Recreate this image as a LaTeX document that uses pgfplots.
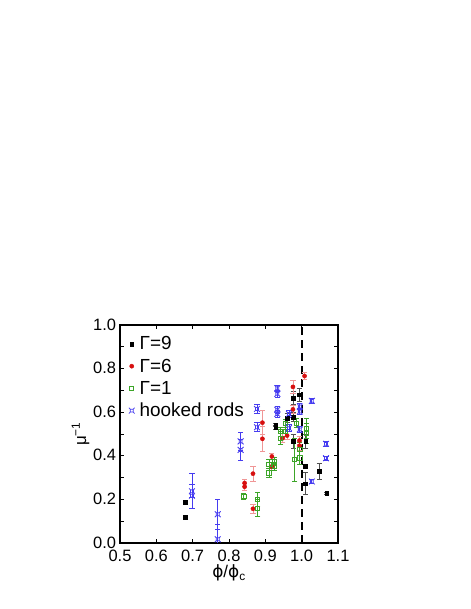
\documentclass[border=0pt]{standalone}
\usepackage{fontspec}
\setmainfont{Liberation Sans}
\newfontfamily\dvsans{DejaVu Sans}
\usepackage{pgfplots}
\pgfplotsset{compat=1.18}

\definecolor{gnine}{RGB}{0,0,0}
\definecolor{gninebar}{RGB}{80,80,80}
\definecolor{gsix}{RGB}{215,15,15}
\definecolor{gsixbar}{RGB}{240,150,150}
\definecolor{gone}{RGB}{60,165,40}
\definecolor{rods}{RGB}{70,60,240}

% square with corner stubs for the hooked rods
\pgfdeclareplotmark{hook}{%
  \pgfpathrectangle{\pgfpoint{-0.5\pgfplotmarksize}{-0.5\pgfplotmarksize}}%
    {\pgfpoint{\pgfplotmarksize}{\pgfplotmarksize}}%
  \pgfpathmoveto{\pgfpoint{-\pgfplotmarksize}{-\pgfplotmarksize}}%
  \pgfpathlineto{\pgfpoint{-0.5\pgfplotmarksize}{-0.5\pgfplotmarksize}}%
  \pgfpathmoveto{\pgfpoint{\pgfplotmarksize}{-\pgfplotmarksize}}%
  \pgfpathlineto{\pgfpoint{0.5\pgfplotmarksize}{-0.5\pgfplotmarksize}}%
  \pgfpathmoveto{\pgfpoint{-\pgfplotmarksize}{\pgfplotmarksize}}%
  \pgfpathlineto{\pgfpoint{-0.5\pgfplotmarksize}{0.5\pgfplotmarksize}}%
  \pgfpathmoveto{\pgfpoint{\pgfplotmarksize}{\pgfplotmarksize}}%
  \pgfpathlineto{\pgfpoint{0.5\pgfplotmarksize}{0.5\pgfplotmarksize}}%
  \pgfusepathqstroke}

\pgfplotsset{
  ebars/.style={error bars/.cd, y dir=both, y explicit,
    error bar style={color=#1, line width=0.8pt},
    error mark options={rotate=90, mark size=2.6bp, color=#1, line width=0.8pt}},
}

\begin{document}
\begin{tikzpicture}
\fill[white] (0,0) rectangle (471bp,609bp);
\path[use as bounding box] (0,0) rectangle (471bp,609bp);
\begin{axis}[
  at={(120bp,66bp)}, anchor=south west,
  scale only axis, width=218bp, height=218bp,
  xmin=0.5, xmax=1.1, ymin=0, ymax=1,
  xtick={0.5,0.6,0.7,0.8,0.9,1.0,1.1},
  ytick={0,0.2,0.4,0.6,0.8,1.0},
  minor y tick num=1,
  tick align=inside,
  major tick length=4bp, minor tick length=4bp,
  axis line style={line width=1.1pt},
  tick style={line width=0.8pt, black},
  xticklabel style={yshift=-4bp, /pgf/number format/.cd, fixed, fixed zerofill, precision=1},
  yticklabel style={xshift=-0.5bp, yshift=0.5bp, /pgf/number format/.cd, fixed, fixed zerofill, precision=1},
  /pgf/number format/assume math mode=true,
  tick label style={font=\fontsize{16.5}{18}\selectfont},
  label style={font=\fontsize{17}{19}\selectfont},
  xlabel={{\dvsans ϕ}/{\dvsans ϕ}\textsubscript{c}},
  ylabel={μ\textsuperscript{−1}},
  xlabel style={yshift=4bp},
  ylabel style={yshift=-3bp},
  legend style={at={(0.035,0.975)}, anchor=north west, draw=none, fill=none,
    font=\fontsize{19}{21}\selectfont, row sep=3.5bp,
    inner xsep=1bp, inner ysep=4bp},
  legend cell align=left,
  clip=true,
]

\addplot[line width=1.8pt, black, forget plot, dash pattern=on 8bp off 5bp]
  coordinates {(1,0) (1,1)};

% Gamma = 9
\addplot[only marks, mark=square*, mark size=1.8bp, color=gnine, ebars=gninebar]
  coordinates {
  (0.680,0.186) +- (0,0.008)
  (0.680,0.118) +- (0,0.008)
  (0.928,0.542) +- (0,0.008)
  (0.928,0.531) +- (0,0.008)
  (0.960,0.573) +- (0,0.02)
  (0.977,0.664) +- (0,0.03)
  (0.977,0.577) +- (0,0.02)
  (0.977,0.466) +- (0,0.03)
  (0.994,0.680) +- (0,0.03)
  (1.010,0.351) +- (0,0.008)
  (1.010,0.272) +- (0,0.05)
  (1.011,0.466) +- (0,0.03)
  (1.048,0.328) +- (0,0.035)
  (1.069,0.229) +- (0,0.004)
  };
\addlegendentry{\hspace{3bp}Γ=9}

% Gamma = 6
\addplot[only marks, mark=*, mark size=2.1bp, color=gsix, ebars=gsixbar]
  coordinates {
  (0.843,0.275) +- (0,0.015)
  (0.843,0.258) +- (0,0.015)
  (0.866,0.318) +- (0,0.035)
  (0.866,0.157) +- (0,0.02)
  (0.892,0.552) +- (0,0.055)
  (0.892,0.478) +- (0,0.058)
  (0.918,0.397) +- (0,0.015)
  (0.918,0.351) +- (0,0.02)
  (0.948,0.481) +- (0,0.02)
  (0.960,0.493) +- (0,0.02)
  (0.976,0.716) +- (0,0.03)
  (0.976,0.613) +- (0,0.02)
  (0.994,0.470) +- (0,0.02)
  (0.994,0.446) +- (0,0.02)
  (1.008,0.766) +- (0,0.015)
  };
\addlegendentry{\hspace{3bp}Γ=6}

% Gamma = 1
\addplot[only marks, mark=square, mark size=2.1bp, line width=0.8pt, color=gone, ebars=gone]
  coordinates {
  (0.841,0.214) +- (0,0.015)
  (0.879,0.200) +- (0,0.03)
  (0.879,0.160) +- (0,0.04)
  (0.910,0.362) +- (0,0.02)
  (0.910,0.322) +- (0,0.02)
  (0.924,0.374) +- (0,0.02)
  (0.924,0.352) +- (0,0.02)
  (0.942,0.511) +- (0,0.02)
  (0.942,0.480) +- (0,0.03)
  (0.956,0.549) +- (0,0.02)
  (0.956,0.511) +- (0,0.02)
  (0.981,0.382) +- (0,0.10)
  (0.985,0.550) +- (0,0.02)
  (0.995,0.430) +- (0,0.03)
  (0.995,0.390) +- (0,0.03)
  (1.014,0.527) +- (0,0.045)
  (1.014,0.504) +- (0,0.045)
  };
\addlegendentry{\hspace{3bp}Γ=1}

% hooked rods
\addplot[only marks, mark=hook, mark size=2.9bp, line width=0.8pt, color=rods, ebars=rods]
  coordinates {
  (0.698,0.237) +- (0,0.03)
  (0.698,0.217) += (0,0.104) -= (0,0.06)
  (0.769,0.132) +- (0,0.07)
  (0.769,0.017) +- (0,0.07)
  (0.832,0.466) +- (0,0.04)
  (0.832,0.427) +- (0,0.05)
  (0.877,0.615) +- (0,0.02)
  (0.877,0.531) +- (0,0.02)
  (0.933,0.710) +- (0,0.015)
  (0.933,0.684) +- (0,0.015)
  (0.933,0.611) +- (0,0.015)
  (0.933,0.592) +- (0,0.015)
  (0.965,0.592) +- (0,0.015)
  (0.965,0.527) +- (0,0.015)
  (0.995,0.626) +- (0,0.015)
  (0.995,0.603) +- (0,0.015)
  (0.995,0.521) +- (0,0.015)
  (1.028,0.652) +- (0,0.01)
  (1.028,0.282) +- (0,0.01)
  (1.067,0.455) +- (0,0.01)
  (1.067,0.389) +- (0,0.01)
  };
\addlegendentry{\hspace{3bp}hooked rods}

\end{axis}
\end{tikzpicture}
\end{document}
